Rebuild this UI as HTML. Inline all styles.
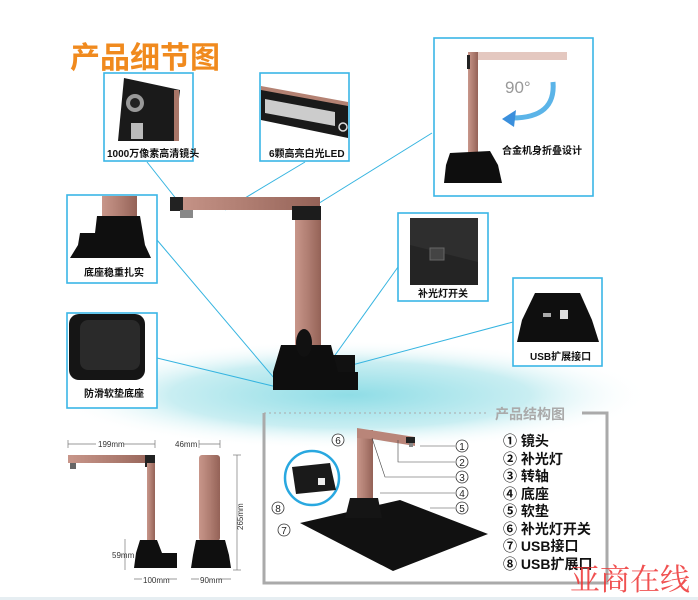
<!DOCTYPE html>
<html><head><meta charset="utf-8"><style>
html,body{margin:0;padding:0;background:#fff;}
svg{display:block;font-family:"Liberation Sans","Noto Sans CJK SC",sans-serif;}
.l{font-size:10px;font-weight:bold;fill:#111;}
.c{stroke:#35b4e0;stroke-width:1;fill:none;}
.b{fill:#fff;stroke:#3ab6e6;stroke-width:1.6;}
.lg{font-size:14px;font-weight:bold;fill:#111;}
.d{font-size:8px;fill:#333;}
.n{fill:#fff;stroke:#333;stroke-width:0.8;}
.nt{font-size:10px;fill:#222;text-anchor:middle;}
</style></head><body>
<svg width="698" height="600" viewBox="0 0 698 600">
<defs>
<radialGradient id="glow" cx="50%" cy="50%" r="50%">
<stop offset="0" stop-color="#8fdde6"/><stop offset="0.6" stop-color="#c9eef2"/><stop offset="1" stop-color="#fff" stop-opacity="0"/>
</radialGradient>
<linearGradient id="pk" x1="0" x2="1"><stop offset="0" stop-color="#c8968a"/><stop offset="0.5" stop-color="#b07e72"/><stop offset="1" stop-color="#946257"/></linearGradient>
</defs>
<ellipse cx="350" cy="395" rx="300" ry="55" fill="url(#glow)"/>
<text x="70" y="68" font-size="30" font-weight="bold" fill="#f08a1e" font-family="'Noto Sans CJK SC',sans-serif">产品细节图</text>

<!-- connectors -->
<line class="c" x1="147" y1="162" x2="185" y2="210"/>
<line class="c" x1="305" y1="162" x2="225" y2="210"/>
<line class="c" x1="432" y1="133" x2="300" y2="215"/>
<line class="c" x1="157" y1="240" x2="280" y2="385"/>
<line class="c" x1="157" y1="358" x2="277" y2="387"/>
<line class="c" x1="398" y1="267" x2="333" y2="358"/>
<line class="c" x1="513" y1="322" x2="352" y2="365"/>

<!-- main scanner -->
<rect x="170" y="197" width="150" height="13" fill="url(#pk)"/>
<rect x="170" y="197" width="13" height="14" fill="#222"/>
<rect x="180" y="210" width="13" height="8" fill="#888"/>
<rect x="295" y="210" width="26" height="137" fill="url(#pk)"/>
<rect x="292" y="206" width="29" height="14" fill="#1c1c1c"/>
<rect x="330" y="355" width="25" height="35" fill="#111"/>
<polygon points="281,345 331,345 338,372 358,372 358,390 273,390 273,372" fill="#0e0e0e"/>
<ellipse cx="304" cy="343" rx="8" ry="14" fill="#111"/>

<!-- box1 -->
<rect class="b" x="104" y="73" width="89" height="88"/>
<polygon points="124,78 180,90 174,141 118,141" fill="#1a1a1a"/>
<rect x="174" y="90" width="5" height="51" fill="#a87668"/>
<circle cx="135" cy="103" r="9" fill="#999"/><circle cx="135" cy="103" r="5" fill="#222"/>
<rect x="131" y="123" width="12" height="16" fill="#bbb"/>
<text class="l" x="107" y="157">1000万像素高清镜头</text>
<!-- box2 -->
<rect class="b" x="260" y="73" width="89" height="88"/>
<polygon points="261,88 348,104 348,138 261,120" fill="#1a1a1a"/>
<polygon points="261,86 348,102 348,106 261,90" fill="#b48273"/>
<polygon points="265,99 335,112 335,126 265,113" fill="#ccc"/>
<circle cx="343" cy="127" r="4" fill="none" stroke="#ddd" stroke-width="1.5"/>
<text class="l" x="269" y="157">6颗高亮白光LED</text>
<!-- box3 -->
<rect class="b" x="434" y="38" width="159" height="158"/>
<rect x="470" y="52" width="97" height="8" fill="#e4c8c0"/>
<rect x="468" y="52" width="10" height="102" fill="url(#pk)"/>
<rect x="467" y="55" width="3" height="14" fill="#222"/>
<polygon points="450,153 490,151 498,165 502,183 444,183 446,165" fill="#0e0e0e"/>
<text x="505" y="93" font-size="17" fill="#999">90°</text>
<path d="M553,82 Q556,118 512,118" stroke="#5bb4e8" stroke-width="5" fill="none"/>
<polygon points="502,119 516,110 514,127" fill="#3a8fdc"/>
<text class="l" x="502" y="154">合金机身折叠设计</text>
<!-- box4 -->
<rect class="b" x="67" y="195" width="90" height="88"/>
<rect x="102" y="196" width="35" height="20" fill="url(#pk)"/>
<polygon points="97,216 140,216 145,245 151,258 70,258 78,245 80,233 95,233" fill="#0f0f0f"/>
<text class="l" x="84" y="276">底座稳重扎实</text>
<!-- box5 -->
<rect class="b" x="67" y="313" width="90" height="95"/>
<rect x="69" y="314" width="76" height="66" rx="10" fill="#151515"/>
<rect x="80" y="320" width="60" height="50" rx="8" fill="#2a2a2a"/>
<text class="l" x="84" y="397">防滑软垫底座</text>
<!-- switch -->
<rect class="b" x="398" y="213" width="90" height="88"/>
<rect x="410" y="218" width="68" height="67" fill="#2e2e2e"/>
<polygon points="410,245 478,262 478,285 410,285" fill="#242424"/>
<rect x="430" y="248" width="14" height="12" fill="#444" stroke="#666"/>
<text class="l" x="418" y="297">补光灯开关</text>
<!-- usb -->
<rect class="b" x="513" y="278" width="89" height="88"/>
<polygon points="535,293 580,293 592,320 599,342 517,342 522,320" fill="#0f0f0f"/>
<rect x="543" y="313" width="8" height="4" fill="#aaa"/><rect x="560" y="310" width="8" height="9" fill="#ddd"/>
<text class="l" x="530" y="360">USB扩展接口</text>

<!-- dimension drawings -->
<g stroke="#777" stroke-width="0.7">
<line x1="68" y1="444" x2="155" y2="444"/><line x1="68" y1="440" x2="68" y2="448"/><line x1="155" y1="440" x2="155" y2="448"/>
<line x1="199" y1="444" x2="220" y2="444"/><line x1="199" y1="440" x2="199" y2="448"/><line x1="220" y1="440" x2="220" y2="448"/>
<line x1="237" y1="455" x2="237" y2="570"/><line x1="233" y1="455" x2="241" y2="455"/><line x1="233" y1="570" x2="241" y2="570"/>
<line x1="125" y1="539" x2="125" y2="570"/>
<line x1="134" y1="579" x2="177" y2="579"/><line x1="191" y1="579" x2="231" y2="579"/>
</g>
<rect x="96" y="438" width="28" height="10" fill="#fff"/><text class="d" x="98" y="447">199mm</text>
<rect x="174" y="438" width="24" height="10" fill="#fff"/><text class="d" x="175" y="447">46mm</text>
<text class="d" x="112" y="558">59mm</text>
<rect x="142" y="575" width="26" height="9" fill="#fff"/><text class="d" x="143" y="583">100mm</text>
<rect x="199" y="575" width="20" height="9" fill="#fff"/><text class="d" x="200" y="583">90mm</text>
<text class="d" transform="translate(243,530) rotate(-90)">265mm</text>
<rect x="68" y="455" width="87" height="8" fill="url(#pk)"/>
<rect x="145" y="455" width="10" height="12" fill="#222"/>
<rect x="70" y="463" width="6" height="6" fill="#666"/>
<rect x="147" y="463" width="8" height="78" fill="url(#pk)"/>
<polygon points="140,540 157,540 162,553 177,553 177,568 134,568 136,553" fill="#0f0f0f"/>
<rect x="199" y="455" width="21" height="86" rx="3" fill="url(#pk)"/>
<polygon points="196,540 225,540 229,555 231,568 191,568 193,555" fill="#0f0f0f"/>

<!-- structure box -->
<line x1="264" y1="413" x2="487" y2="413" stroke="#aaa" stroke-dasharray="2,3"/>
<text x="495" y="419" font-size="14" font-weight="bold" fill="#aaa">产品结构图</text>
<polyline points="582,413 607,413 607,583 264,583 264,413" fill="none" stroke="#aaa" stroke-width="3"/>
<polygon points="300,523 400,500 488,534 393,571" fill="#111"/>
<rect x="357" y="430" width="16" height="70" fill="url(#pk)"/>
<polygon points="357,428 415,437 415,446 372,439 357,438" fill="#b98579"/>
<rect x="406" y="437" width="9" height="6" fill="#222"/>
<rect x="409" y="443" width="4" height="4" fill="#888"/>
<polygon points="350,498 378,498 382,518 345,518" fill="#151515"/>
<circle cx="312" cy="478" r="27" fill="#fff" stroke="#29a8e0" stroke-width="2.5"/>
<polygon points="292,467 330,463 336,490 296,494" fill="#1a1a1a"/>
<rect x="318" y="478" width="7" height="7" fill="#eee"/>
<g stroke="#444" stroke-width="0.6" fill="none">
<polyline points="420,446 455,446"/><polyline points="398,440 398,462 455,462"/>
<polyline points="372,438 385,477 455,477"/><polyline points="380,493 455,493"/><polyline points="430,508 455,508"/>
</g>
<g>
<circle class="n" cx="462" cy="446" r="6"/><text class="nt" x="462" y="450">1</text>
<circle class="n" cx="462" cy="462" r="6"/><text class="nt" x="462" y="466">2</text>
<circle class="n" cx="462" cy="477" r="6"/><text class="nt" x="462" y="481">3</text>
<circle class="n" cx="462" cy="493" r="6"/><text class="nt" x="462" y="497">4</text>
<circle class="n" cx="462" cy="508" r="6"/><text class="nt" x="462" y="512">5</text>
<circle class="n" cx="338" cy="440" r="6"/><text class="nt" x="338" y="444">6</text>
<circle class="n" cx="278" cy="508" r="6"/><text class="nt" x="278" y="512">8</text>
<circle class="n" cx="284" cy="530" r="6"/><text class="nt" x="284" y="534">7</text>
</g>
<text class="lg" x="503" y="446">① 镜头</text>
<text class="lg" x="503" y="464">② 补光灯</text>
<text class="lg" x="503" y="481">③ 转轴</text>
<text class="lg" x="503" y="499">④ 底座</text>
<text class="lg" x="503" y="516">⑤ 软垫</text>
<text class="lg" x="503" y="534">⑥ 补光灯开关</text>
<text class="lg" x="503" y="551">⑦ USB接口</text>
<text class="lg" x="503" y="569">⑧ USB扩展口</text>
<text x="570" y="590" font-size="30" fill="#e33" opacity="0.85" font-family="'Noto Serif CJK SC',serif">亚商在线</text>
<rect x="0" y="597" width="698" height="3" fill="#e6eef2"/>
</svg>
</body></html>
